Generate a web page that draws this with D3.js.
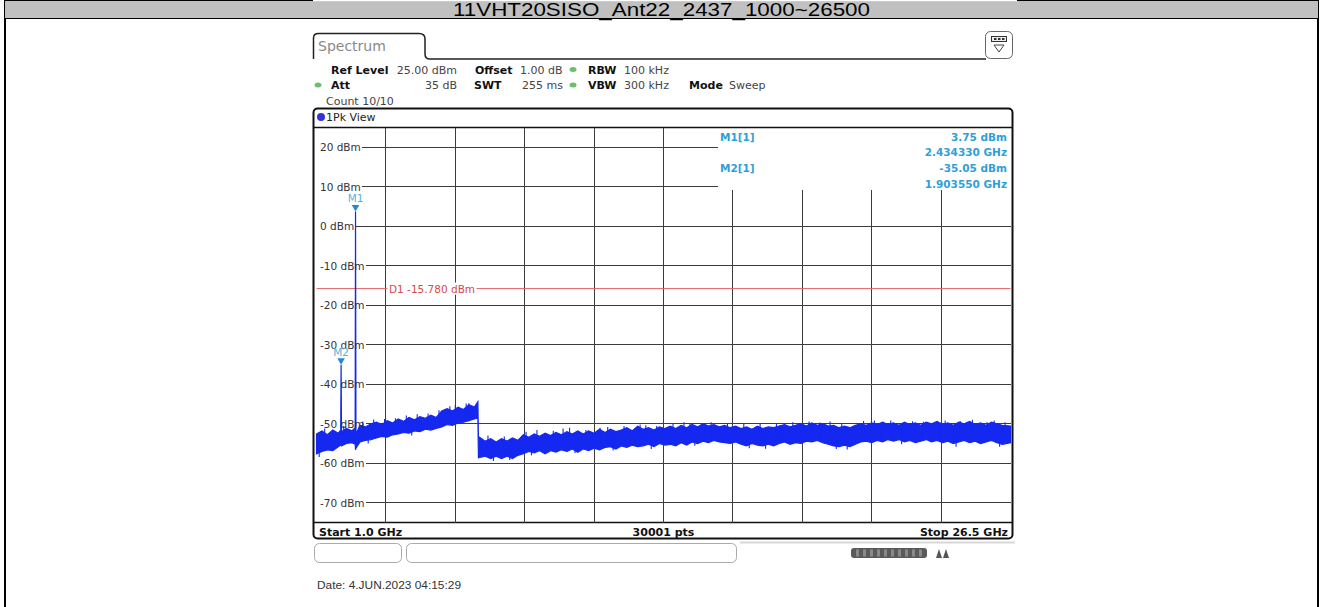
<!DOCTYPE html>
<html><head><meta charset="utf-8">
<script src="https://cdn.jsdelivr.net/npm/d3@7"></script>
<style>body{margin:0;background:#fff}svg{display:block}</style>
</head><body>
<svg id="c" width="1323" height="607"></svg>
<script>
// ---------------- data ----------------
const chartTitle = "11VHT20SISO_Ant22_2437_1000~26500";
const startGHz = 1.0, stopGHz = 26.5;
const refLevel = 25, bottomLevel = -75;
const yTickValues = [20, 10, 0, -10, -20, -30, -40, -50, -60, -70];
const yTickLabels = ["20 dBm", "10 dBm", "0 dBm", "-10 dBm", "-20 dBm", "-30 dBm", "-40 dBm", "-50 dBm", "-60 dBm", "-70 dBm"];
const displayLineLevel = -15.78;
const displayLineLabel = "D1 -15.780 dBm";
const markerNames = ["M1", "M2"];
const markerFreq = [2.434330, 1.903550];
const markerLevel = [3.75, -35.05];
const markerTableNames = ["M1[1]", "M2[1]"];
const markerTableLevels = ["3.75 dBm", "-35.05 dBm"];
const markerTableFreqs = ["2.434330 GHz", "1.903550 GHz"];
const bottomLabels = ["Start 1.0 GHz", "30001 pts", "Stop 26.5 GHz"];
const dateLabel = "Date: 4.JUN.2023  04:15:29";

// peak-detector trace, read as envelope (upper / lower edge of the noise band)
const traceFreq = [1.0,1.2,1.4,1.6,1.8,1.89,1.9035,1.92,2.1,2.3,2.42,2.4343,2.45,2.6,2.8,3.0,3.2,3.4,3.6,3.8,
 4.0,4.2,4.4,4.6,4.8,5.0,5.2,5.4,5.6,5.8,6.0,6.2,6.4,6.6,6.8,6.93,6.95,7.2,7.4,7.6,7.8,8.0,8.2,8.4,8.6,8.8,
 9.0,9.2,9.4,9.6,9.8,10.0,10.2,10.4,10.6,10.8,11.0,11.2,11.4,11.6,11.8,12.0,12.2,12.4,12.6,12.8,13.0,13.2,13.4,13.6,13.8,
 14.0,14.2,14.4,14.6,14.8,15.0,15.2,15.4,15.6,15.8,16.0,16.2,16.4,16.6,16.8,17.0,17.2,17.4,17.6,17.8,
 18.0,18.2,18.4,18.6,18.8,19.0,19.2,19.4,19.6,19.8,20.0,20.2,20.4,20.6,20.8,21.0,21.2,21.4,21.6,21.8,
 22.0,22.2,22.4,22.6,22.8,23.0,23.2,23.4,23.6,23.8,24.0,24.2,24.4,24.6,24.8,25.0,25.2,25.4,25.6,25.8,26.0,26.2,26.5];
const traceHi = [-52.6,-51.8,-52.8,-51.6,-52.4,-51.6,-35.05,-52.0,-51.2,-51.8,-51.0,3.75,-52.6,-50.4,-50.8,-50.0,-49.6,-50.2,-49.2,-49.8,
 -48.8,-49.4,-48.4,-49.0,-48.2,-48.6,-47.8,-48.4,-46.8,-46.2,-46.8,-45.8,-46.4,-45.2,-45.8,-44.4,-53.2,-54.4,-53.8,-54.6,-53.8,-54.4,-53.6,-54.2,-52.8,-53.4,
 -52.6,-53.2,-52.4,-53.0,-52.2,-52.8,-52.0,-52.6,-51.8,-52.6,-51.8,-52.4,-51.4,-52.2,-51.4,-52.0,-51.6,-51.0,-51.8,-50.6,-51.4,-51.0,-51.6,-50.8,-51.2,
 -50.6,-51.2,-50.4,-51.0,-50.2,-50.8,-50.0,-50.6,-50.2,-50.8,-50.4,-51.0,-50.6,-51.2,-50.8,-51.4,-50.6,-51.2,-50.8,-51.0,
 -50.6,-50.2,-50.8,-50.4,-50.0,-50.6,-49.8,-50.4,-50.0,-50.6,-50.4,-51.0,-50.6,-51.0,-50.4,-50.0,-50.4,-49.8,-50.2,-49.6,
 -50.2,-49.8,-50.4,-49.6,-50.2,-49.8,-50.4,-49.6,-50.0,-49.4,-50.2,-49.8,-50.4,-49.6,-50.0,-49.4,-50.2,-49.8,-50.4,-49.6,-50.0,-50.4,-50.6];
const traceLo = [-57.6,-57.0,-56.6,-56.8,-55.8,-55.4,-55.2,-55.6,-55.0,-54.8,-55.2,-56.6,-56.2,-54.6,-54.2,-54.0,-53.6,-53.2,-53.4,-52.8,
 -52.6,-52.2,-52.4,-51.8,-52.0,-51.4,-51.6,-51.2,-50.8,-50.2,-50.4,-49.8,-49.6,-49.2,-48.8,-48.6,-58.6,-58.2,-58.8,-58.2,-58.8,-58.2,-58.8,-58.0,-57.6,-57.0,
 -57.4,-56.8,-57.6,-56.8,-57.2,-56.6,-57.0,-56.4,-57.2,-56.4,-56.8,-56.2,-56.6,-56.0,-55.8,-56.4,-55.6,-56.0,-55.4,-55.8,-55.6,-55.2,-55.8,-55.0,-55.4,
 -55.2,-55.6,-54.8,-55.4,-54.6,-55.0,-54.4,-54.8,-54.2,-54.6,-54.8,-55.0,-54.6,-55.2,-55.6,-55.0,-55.4,-55.6,-55.2,-55.6,
 -55.0,-54.6,-55.2,-54.8,-55.0,-54.4,-54.6,-54.2,-54.8,-55.2,-55.6,-55.8,-55.4,-55.8,-55.2,-54.6,-54.4,-54.8,-54.2,-54.6,
 -54.0,-54.4,-54.0,-54.6,-54.2,-54.8,-54.4,-54.0,-54.6,-54.2,-54.8,-54.4,-55.0,-54.6,-54.2,-54.8,-54.4,-55.0,-54.6,-54.2,-54.8,-55.2,-54.8];
// narrow noise spikes rising above the band
const spikeFreq = [1.3, 2.0, 2.7, 3.1, 3.5, 3.9, 4.3, 4.7, 5.1, 5.5, 5.9, 6.1, 6.5, 6.6, 7.3, 7.9, 8.7, 9.1, 9.7, 10.06, 10.3, 10.9,
  11.42, 11.7, 12.3, 12.89, 13.1, 13.5, 14.1, 14.5, 14.72, 15.27, 15.5, 16.1, 16.7, 17.3, 17.9, 18.03, 18.5, 19.1, 19.5, 19.87,
  20.3, 21.1, 21.5, 21.78, 22.1, 22.63, 22.9, 23.3, 23.91, 24.1, 24.65, 25.1, 25.64, 25.9, 26.3];
const spikeTop  = [-51.2, -50.6, -49.4, -48.9, -48.8, -48.6, -47.9, -47.6, -47.4, -46.6, -45.6, -45.2, -44.9, -44.8, -53.0, -53.2, -52.0, -51.6, -51.8, -51.2, -51.0, -51.6,
  -51.0, -50.8, -50.6, -50.2, -50.4, -50.6, -49.8, -49.6, -49.9, -50.1, -49.6, -49.8, -50.0, -49.9, -50.0, -50.5, -49.6, -49.4, -49.7, -49.4,
  -50.0, -49.3, -49.2, -49.6, -49.2, -49.8, -49.4, -49.5, -49.7, -49.2, -49.3, -49.0, -49.6, -49.2, -49.6];
// narrow dips below the band
const dipFreq = [1.1, 2.9, 4.5, 7.5, 8.1, 8.9, 10.5, 11.9, 13.3, 14.9, 16.9, 17.5, 20.1, 20.5, 22.5, 24.5, 26.1];
const dipBottom = [-58.4, -55.0, -53.0, -59.4, -59.2, -58.0, -57.4, -56.8, -56.4, -55.6, -56.2, -56.3, -56.4, -56.5, -55.2, -55.8, -55.8];

// ---------------- drawing ----------------
const svg = d3.select("#c");
const FONT = "'DejaVu Sans', Verdana, sans-serif";
const BLUE = "#1428f0", CYAN = "#2f9fd6", GRID = "#3c3c3c";

const x = d3.scaleLinear().domain([startGHz, stopGHz]).range([316.5, 1010.5]);
const y = d3.scaleLinear().domain([refLevel, bottomLevel]).range([127.5, 522.5]);

// title bar & outer frame
svg.append("rect").attr("x", 4.5).attr("y", 0.5).attr("width", 1314).attr("height", 18)
  .attr("fill", "#c0c0c0").attr("stroke", "#000");
svg.append("rect").attr("x", 313).attr("y", 0).attr("width", 704).attr("height", 1.2).attr("fill", "#fff");
svg.append("line").attr("x1", 5).attr("x2", 5).attr("y1", 18).attr("y2", 607).attr("stroke", "#000").attr("stroke-width", 2);
svg.append("line").attr("x1", 1318).attr("x2", 1318).attr("y1", 18).attr("y2", 607).attr("stroke", "#000").attr("stroke-width", 2);
svg.append("text").attr("x", 661.5).attr("y", 16).attr("text-anchor", "middle")
  .attr("font-family", "'Liberation Sans Narrow','Arial Narrow','Liberation Sans',Arial,sans-serif")
  .attr("font-size", 19).attr("textLength", 417).attr("lengthAdjust", "spacingAndGlyphs")
  .attr("fill", "#000").text(chartTitle);

// tab
svg.append("path").attr("d", "M313.5,59 L313.5,38 Q313.5,33.5 318.5,33.5 L419,33.5 Q425,33.5 425,39 L425,54 Q425,59 430,59 L986,59")
  .attr("fill", "none").attr("stroke", "#222").attr("stroke-width", 1.5);
svg.append("text").attr("x", 318).attr("y", 51).attr("font-family", FONT).attr("font-size", 14).attr("fill", "#8a8a8a").text("Spectrum");
// top-right icon
svg.append("rect").attr("x", 985.5).attr("y", 31.5).attr("width", 27).attr("height", 27).attr("rx", 5)
  .attr("fill", "#fff").attr("stroke", "#666");
svg.append("rect").attr("x", 991.5).attr("y", 36.5).attr("width", 15).attr("height", 5).attr("fill", "#eee").attr("stroke", "#333");
[994, 998, 1002].forEach(v => svg.append("rect").attr("x", v).attr("y", 38).attr("width", 2.5).attr("height", 2).attr("fill", "#333"));
svg.append("path").attr("d", "M994,45 L1004,45 L999,52 Z").attr("fill", "none").attr("stroke", "#444");

// header settings
const hdr = svg.append("g").attr("font-family", FONT).attr("font-size", 11);
function ht(xp, yp, t, bold, anchor) {
  hdr.append("text").attr("x", xp).attr("y", yp).attr("text-anchor", anchor || "start")
    .attr("font-weight", bold ? "bold" : "normal").attr("fill", bold ? "#111" : "#444").text(t);
}
ht(331, 73.5, "Ref Level", true); ht(457, 73.5, "25.00 dBm", false, "end");
ht(475, 73.5, "Offset", true); ht(520, 73.5, "1.00 dB", false);
ht(588, 73.5, "RBW", true); ht(624, 73.5, "100 kHz", false);
ht(331, 89, "Att", true); ht(457, 89, "35 dB", false, "end");
ht(474, 89, "SWT", true); ht(522, 89, "255 ms", false);
ht(588, 89, "VBW", true); ht(624, 89, "300 kHz", false);
ht(689, 89, "Mode", true); ht(729, 89, "Sweep", false);
ht(326, 104.5, "Count 10/10", false);
[[318, 85], [573, 69.5], [573, 85]].forEach(p => svg.append("ellipse").attr("cx", p[0]).attr("cy", p[1])
  .attr("rx", 3.5).attr("ry", 2.5).attr("fill", "#6cbf6c"));

// plot window frame
svg.append("rect").attr("x", 313.5).attr("y", 108.5).attr("width", 699).attr("height", 430).attr("rx", 4)
  .attr("fill", "#fff").attr("stroke", "#111").attr("stroke-width", 2);
svg.append("circle").attr("cx", 321).attr("cy", 117).attr("r", 4).attr("fill", "#3333d8");
svg.append("text").attr("x", 326).attr("y", 121).attr("font-family", FONT).attr("font-size", 11).attr("fill", "#222").text("1Pk View");
svg.append("line").attr("x1", 314).attr("x2", 1012).attr("y1", y(refLevel)).attr("y2", y(refLevel)).attr("stroke", "#111").attr("stroke-width", 1.3);
svg.append("line").attr("x1", 314).attr("x2", 1012).attr("y1", y(bottomLevel)).attr("y2", y(bottomLevel)).attr("stroke", "#111").attr("stroke-width", 1.3);

// grid
const tableLeft = 718, tableBottom = 189.5;
const gridG = svg.append("g").attr("stroke", GRID).attr("stroke-width", 1).attr("shape-rendering", "crispEdges");
const xGrid = d3.range(1, 10).map(i => startGHz + i * (stopGHz - startGHz) / 10);
xGrid.forEach(f => {
  const xx = x(f);
  gridG.append("line").attr("x1", xx).attr("x2", xx).attr("y1", xx > tableLeft ? tableBottom : y(refLevel)).attr("y2", y(bottomLevel));
});
// y labels measured first so lines start after them
const labG = svg.append("g").attr("font-family", FONT).attr("font-size", 10.5).attr("fill", "#333");
const labEnds = [];
yTickValues.forEach((v, i) => {
  const t = labG.append("text").attr("x", 320).attr("y", y(v) + 3.8).text(yTickLabels[i]);
  labEnds.push(320 + t.node().getComputedTextLength());
});
yTickValues.forEach((v, i) => {
  const yy = y(v);
  const x2 = yy < tableBottom ? tableLeft : x(stopGHz);
  gridG.append("line").attr("x1", labEnds[i] + 1.5).attr("x2", x2).attr("y1", yy).attr("y2", yy);
});

// display line D1
svg.append("line").attr("x1", x(startGHz)).attr("x2", x(stopGHz)).attr("y1", y(displayLineLevel)).attr("y2", y(displayLineLevel))
  .attr("stroke", "#e06666").attr("stroke-width", 1);

// trace
const idx = d3.range(traceFreq.length);
const area = d3.area().x(i => x(traceFreq[i])).y0(i => y(traceLo[i])).y1(i => y(traceHi[i]));
svg.append("path").datum(idx).attr("d", area).attr("fill", BLUE).attr("stroke", BLUE).attr("stroke-width", 1.2)
  .attr("stroke-linejoin", "miter");
const spG = svg.append("g").attr("stroke", BLUE).attr("stroke-width", 1.1);
spikeFreq.forEach((f, i) => {
  spG.append("line").attr("x1", x(f)).attr("x2", x(f)).attr("y1", y(spikeTop[i])).attr("y2", y(spikeTop[i] - 4));
});
dipFreq.forEach((f, i) => {
  spG.append("line").attr("x1", x(f)).attr("x2", x(f)).attr("y1", y(dipBottom[i])).attr("y2", y(dipBottom[i] + 4));
});

// labels drawn above the trace
labG.raise();

// markers
markerNames.forEach((m, i) => {
  const mx = x(markerFreq[i]), my = y(markerLevel[i]);
  svg.append("path").attr("d", `M${mx - 3.8},${my - 6.5} L${mx + 3.8},${my - 6.5} L${mx},${my} Z`).attr("fill", "#2288d8");
  svg.append("text").attr("x", mx).attr("y", my - 9).attr("text-anchor", "middle").attr("font-family", FONT)
    .attr("font-size", 10.5).attr("fill", "#5ab2dc").text(m);
});

// D1 label with white backing
const d1y = y(displayLineLevel);
const d1bg = svg.append("rect").attr("x", 387.5).attr("y", d1y - 6).attr("height", 12).attr("fill", "#fff");
const d1t = svg.append("text").attr("x", 389).attr("y", d1y + 4).attr("font-family", FONT).attr("font-size", 10.5)
  .attr("fill", "#d44a4a").text(displayLineLabel);
d1bg.attr("width", d1t.node().getComputedTextLength() + 3);

// marker table
const tbl = svg.append("g").attr("font-family", FONT).attr("font-size", 10.5).attr("font-weight", "bold").attr("fill", CYAN);
markerTableNames.forEach((n, i) => {
  const b = 140.5 + i * 31.5;
  tbl.append("text").attr("x", 720).attr("y", b).text(n);
  tbl.append("text").attr("x", 1007).attr("y", b).attr("text-anchor", "end").text(markerTableLevels[i]);
  tbl.append("text").attr("x", 1007).attr("y", b + 15.5).attr("text-anchor", "end").text(markerTableFreqs[i]);
});

// bottom bar of plot window
const bb = svg.append("g").attr("font-family", FONT).attr("font-size", 11).attr("font-weight", "bold").attr("fill", "#111");
bb.append("text").attr("x", 319).attr("y", 535.5).text(bottomLabels[0]);
bb.append("text").attr("x", (x(startGHz) + x(stopGHz)) / 2).attr("y", 535.5).attr("text-anchor", "middle").text(bottomLabels[1]);
bb.append("text").attr("x", 1008).attr("y", 535.5).attr("text-anchor", "end").text(bottomLabels[2]);

// soft-key boxes and status below
svg.append("rect").attr("x", 314.5).attr("y", 543.5).attr("width", 87).attr("height", 19).attr("rx", 5)
  .attr("fill", "#fff").attr("stroke", "#aaa");
svg.append("rect").attr("x", 406.5).attr("y", 543.5).attr("width", 330).attr("height", 19).attr("rx", 5)
  .attr("fill", "#fff").attr("stroke", "#aaa");
svg.append("line").attr("x1", 740).attr("x2", 1015).attr("y1", 542.5).attr("y2", 542.5).attr("stroke", "#d8d8d8").attr("stroke-width", 2);
svg.append("rect").attr("x", 851).attr("y", 548).attr("width", 76).attr("height", 10).attr("rx", 3).attr("fill", "#5a5a5a");
d3.range(856, 924, 7).forEach(v => svg.append("rect").attr("x", v).attr("y", 549.5).attr("width", 3).attr("height", 7).attr("fill", "#8a8a8a"));
svg.append("path").attr("d", "M936,558 L939,549 L942,558 Z M943,558 L946,549 L949,558 Z").attr("fill", "#555");

// date
svg.append("text").attr("x", 317).attr("y", 589).attr("font-family", "'Liberation Sans',Arial,sans-serif")
  .attr("font-size", 10).attr("fill", "#333").attr("textLength", 144).attr("lengthAdjust", "spacingAndGlyphs").text(dateLabel);
</script>
</body></html>
